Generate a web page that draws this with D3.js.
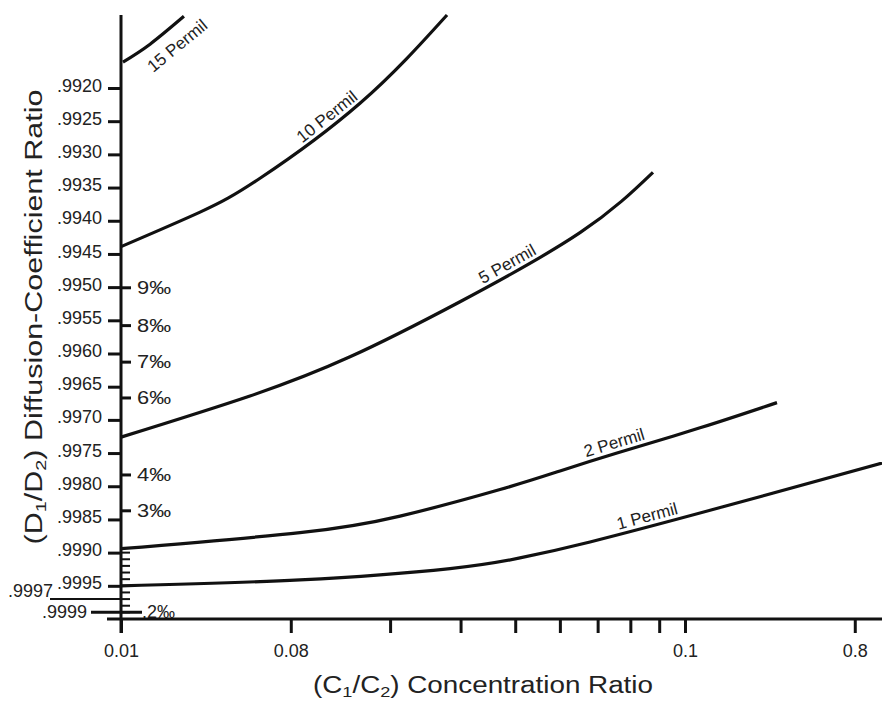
<!DOCTYPE html>
<html>
<head>
<meta charset="utf-8">
<script src="https://cdn.jsdelivr.net/npm/d3@7"></script>
<style>
  body { margin: 0; background: #fff; }
  svg text { font-family: "Liberation Sans", Arial, Helvetica, sans-serif; fill: #222; }
</style>
</head>
<body>
<div id="chart"></div>
<script>
// Data
//-------------------------
var curveNames = ["1 Permil", "2 Permil", "5 Permil", "10 Permil", "15 Permil"];

var conc1 = [0.01, 0.02077, 0.03832, 0.05098, 0.06785, 0.11678, 0.2236];
var diff1 = [0.99950, 0.99941, 0.99924, 0.99908, 0.99884, 0.99831, 0.99765];

var conc2 = [0.01, 0.02077, 0.03124, 0.04699, 0.06003, 0.07576, 0.10632, 0.14558];
var diff2 = [0.99894, 0.99870, 0.99845, 0.99805, 0.99777, 0.99750, 0.99712, 0.99674];

var conc5 = [0.01, 0.01693, 0.02547, 0.03991, 0.06514, 0.08774];
var diff5 = [0.99726, 0.99664, 0.99605, 0.99522, 0.99418, 0.99327];

var conc10 = [0.01, 0.01381, 0.01764, 0.02653, 0.03785];
var diff10 = [0.99439, 0.99387, 0.99336, 0.99223, 0.99090];

var conc15 = [0.01008, 0.01126, 0.01293];
var diff15 = [0.99161, 0.99134, 0.99092];

// where the curve label sits (concentration ratio)
var labelConc = [0.0866, 0.0757, 0.0494, 0.0238, 0.0120];

// axis ticks
var yTicks = [0.9920, 0.9925, 0.9930, 0.9935, 0.9940, 0.9945, 0.9950, 0.9955,
              0.9960, 0.9965, 0.9970, 0.9975, 0.9980, 0.9985, 0.9990, 0.9995];
var yTickLabels = [".9920", ".9925", ".9930", ".9935", ".9940", ".9945", ".9950", ".9955",
                   ".9960", ".9965", ".9970", ".9975", ".9980", ".9985", ".9990", ".9995"];
var yMinorTicks = [0.9990, 0.9991, 0.9992, 0.9993, 0.9994, 0.9995, 0.9996, 0.9997, 0.9998, 0.9999];
var permilTicks = [0.99501, 0.99558, 0.99613, 0.99667, 0.99783, 0.99837];
var permilLabels = ["9‰", "8‰", "7‰", "6‰", "4‰", "3‰"];

var xTicks = [0.01, 0.02, 0.03, 0.04, 0.05, 0.06, 0.07, 0.08, 0.09, 0.1, 0.2];
var xTickLabels = ["0.01", "0.08", "", "", "", "", "", "", "", "0.1", "0.8"];


// Sizing parameters
//------------------
var svgWidth = 882;
var svgHeight = 701;
var fontFam = "'Liberation Sans', Arial, sans-serif";

var svg = d3.select("#chart")
  .append("svg")
  .attr("width", svgWidth)
  .attr("height", svgHeight);

// Scales
//-------
var xScale = d3.scaleLog()
  .domain([0.01, 0.1])
  .range([121, 685]);

var yScale = d3.scaleLinear()
  .domain([0.992, 1.0])
  .range([88, 619]);

var axisX = xScale(0.01);
var axisY = yScale(1.0);

// Y axis (left ticks)
//--------------------
var leftAxis = d3.axisLeft(yScale)
  .tickValues(yTicks)
  .tickSize(13)
  .tickPadding(6)
  .tickFormat((d, i) => yTickLabels[i]);

var yAxisG = svg.append("g")
  .attr("transform", `translate(${axisX}, 0)`)
  .call(leftAxis);
yAxisG.select(".domain").remove();
yAxisG.selectAll("line").attr("stroke", "#111").attr("stroke-width", 3);
yAxisG.selectAll("text")
  .attr("font-size", 18)
  .attr("dy", "0.17em")
  .style("font-family", fontFam)
  .attr("fill", "#222");

// minor ticks on the right side near 1.0
svg.append("g").selectAll("line")
  .data(yMinorTicks)
  .enter()
  .append("line")
  .attr("x1", axisX)
  .attr("x2", axisX + 9)
  .attr("y1", d => yScale(d))
  .attr("y2", d => yScale(d))
  .attr("stroke", "#111")
  .attr("stroke-width", 2);

// permil ticks on right side
var permilG = svg.append("g");
permilG.selectAll("line")
  .data(permilTicks)
  .enter()
  .append("line")
  .attr("x1", axisX)
  .attr("x2", axisX + 10)
  .attr("y1", d => yScale(d))
  .attr("y2", d => yScale(d))
  .attr("stroke", "#111")
  .attr("stroke-width", 3);
permilG.selectAll("text")
  .data(permilTicks)
  .enter()
  .append("text")
  .attr("x", axisX + 16)
  .attr("y", d => yScale(d) + 6)
  .attr("font-size", 18)
  .attr("textLength", 34)
  .attr("lengthAdjust", "spacingAndGlyphs")
  .text((d, i) => permilLabels[i]);

// .9997 and .9999 long marks
svg.append("line")
  .attr("x1", 50).attr("x2", axisX)
  .attr("y1", yScale(0.9997)).attr("y2", yScale(0.9997))
  .attr("stroke", "#111").attr("stroke-width", 2);
svg.append("text")
  .attr("x", 53).attr("y", yScale(0.9997) - 2)
  .attr("text-anchor", "end")
  .attr("font-size", 18)
  .text(".9997");

svg.append("line")
  .attr("x1", 91).attr("x2", 142)
  .attr("y1", yScale(0.9999)).attr("y2", yScale(0.9999))
  .attr("stroke", "#111").attr("stroke-width", 3);
svg.append("text")
  .attr("x", 87).attr("y", yScale(0.9999) + 6)
  .attr("text-anchor", "end")
  .attr("font-size", 18)
  .text(".9999");
svg.append("text")
  .attr("x", 142).attr("y", yScale(0.9999) + 6)
  .attr("font-size", 18)
  .text(".2‰");

// X axis
//-------
var bottomAxis = d3.axisBottom(xScale)
  .tickValues(xTicks)
  .tickSize(14)
  .tickPadding(11)
  .tickFormat((d, i) => xTickLabels[i]);

var xAxisG = svg.append("g")
  .attr("transform", `translate(0, ${axisY})`)
  .call(bottomAxis);
xAxisG.select(".domain").remove();
xAxisG.selectAll("line").attr("stroke", "#111").attr("stroke-width", 3);
xAxisG.selectAll("text")
  .attr("font-size", 18)
  .style("font-family", fontFam)
  .attr("fill", "#222");

// axis lines
svg.append("line")
  .attr("x1", 107).attr("x2", svgWidth)
  .attr("y1", axisY).attr("y2", axisY)
  .attr("stroke", "#111").attr("stroke-width", 3);
svg.append("line")
  .attr("x1", axisX).attr("x2", axisX)
  .attr("y1", 15).attr("y2", axisY + 14)
  .attr("stroke", "#111").attr("stroke-width", 3);

// Curves
//-------
var curves = [
  {name: curveNames[0], c: conc1, d: diff1},
  {name: curveNames[1], c: conc2, d: diff2},
  {name: curveNames[2], c: conc5, d: diff5},
  {name: curveNames[3], c: conc10, d: diff10},
  {name: curveNames[4], c: conc15, d: diff15}
];

var line = d3.line()
  .x(p => xScale(p[0]))
  .y(p => yScale(p[1]))
  .curve(d3.curveNatural);

curves.forEach(function(cv, i) {
  var pts = cv.c.map((c, j) => [c, cv.d[j]]);
  var path = svg.append("path")
    .attr("d", line(pts))
    .attr("fill", "none")
    .attr("stroke", "#111")
    .attr("stroke-width", 3.2);

  // find label anchor on the path
  var node = path.node();
  var len = node.getTotalLength();
  var targetX = xScale(labelConc[i]);
  var best = 0;
  for (var s = 0; s <= len; s += 0.5) {
    if (node.getPointAtLength(s).x >= targetX) { best = s; break; }
  }
  var p0 = node.getPointAtLength(Math.max(0, best - 10));
  var p1 = node.getPointAtLength(Math.min(len, best + 10));
  var pm = node.getPointAtLength(best);
  var angle = Math.atan2(p1.y - p0.y, p1.x - p0.x) * 180 / Math.PI;
  var below = (i === 4);

  svg.append("text")
    .attr("transform", `translate(${pm.x}, ${pm.y}) rotate(${angle})`)
    .attr("text-anchor", "middle")
    .attr("y", below ? 24 : -5)
    .attr("font-size", 17)
    .text(cv.name);
});

// Axis titles
//------------
var xTitle = svg.append("text")
  .attr("x", 483)
  .attr("y", 693)
  .attr("text-anchor", "middle")
  .attr("font-size", 23)
  .attr("textLength", 340)
  .attr("lengthAdjust", "spacingAndGlyphs");
xTitle.append("tspan").text("(C");
xTitle.append("tspan").attr("font-size", 15).attr("dy", 4).text("1");
xTitle.append("tspan").attr("dy", -4).text("/C");
xTitle.append("tspan").attr("font-size", 15).attr("dy", 4).text("2");
xTitle.append("tspan").attr("dy", -4).text(") Concentration Ratio");

var yTitle = svg.append("text")
  .attr("transform", "translate(42, 317) rotate(-90)")
  .attr("text-anchor", "middle")
  .attr("font-size", 23)
  .attr("textLength", 455)
  .attr("lengthAdjust", "spacingAndGlyphs");
yTitle.append("tspan").text("(D");
yTitle.append("tspan").attr("font-size", 15).attr("dy", 4).text("1");
yTitle.append("tspan").attr("dy", -4).text("/D");
yTitle.append("tspan").attr("font-size", 15).attr("dy", 4).text("2");
yTitle.append("tspan").attr("dy", -4).text(") Diffusion-Coefficient Ratio");
</script>
</body>
</html>
